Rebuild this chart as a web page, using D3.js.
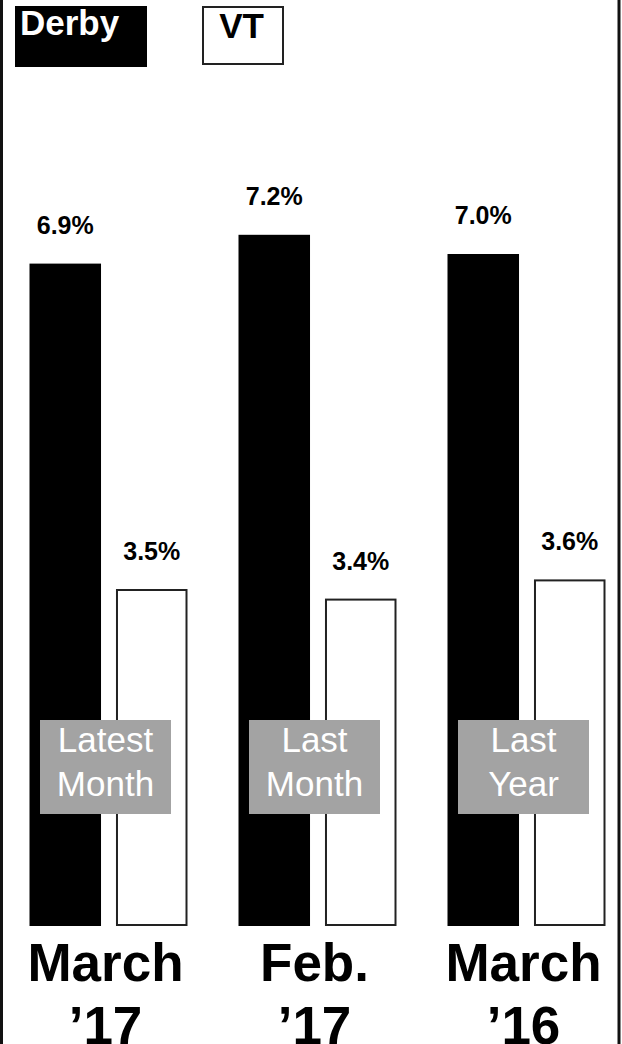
<!DOCTYPE html>
<html>
<head>
<meta charset="utf-8">
<script src="https://cdn.jsdelivr.net/npm/d3@7"></script>
<style>
  html, body { margin: 0; padding: 0; background: #fff; }
  svg { display: block; }
</style>
</head>
<body>
<script>
// Data
const categories = ['March|’17', 'Feb.|’17', 'March|’16']
const seriesNames = ['Derby', 'VT']
const derbyValues = [6.9, 7.2, 7.0]
const vtValues = [3.5, 3.4, 3.6]
const periodNotes = ['Latest|Month', 'Last|Month', 'Last|Year']

const width = 622
const height = 1044
const font = '"Liberation Sans", Arial, Helvetica, sans-serif'
const baseline = 926

const svg = d3.select('body')
  .append('svg')
  .attr('width', width)
  .attr('height', height)
  .attr('viewBox', `0 0 ${width} ${height}`)

// Frame sides
svg.append('rect')
  .attr('x', 1.5)
  .attr('y', -10)
  .attr('width', 617.5)
  .attr('height', height + 20)
  .attr('fill', 'none')
  .attr('stroke', '#111')
  .attr('stroke-width', 3)

// Scales
const x0 = d3.scaleBand()
  .domain(categories)
  .range([4, 631])
  .paddingInner(51 / 209)
  .paddingOuter(51 / 418)

const x1 = d3.scaleBand()
  .domain(seriesNames)
  .range([0, x0.bandwidth()])
  .paddingInner(0.173)

const y = d3.scaleLinear()
  .domain([0, 7.2])
  .range([baseline, baseline - 96 * 7.2])

const rows = categories.map((c, i) => ({
  category: c,
  note: periodNotes[i],
  values: [
    { series: 'Derby', value: derbyValues[i] },
    { series: 'VT', value: vtValues[i] }
  ]
}))

const groups = svg.selectAll('g.group')
  .data(rows)
  .join('g')
  .attr('class', 'group')
  .attr('transform', d => `translate(${x0(d.category)}, 0)`)

// Bars
groups.selectAll('rect.bar')
  .data(d => d.values)
  .join('rect')
  .attr('class', 'bar')
  .attr('x', d => x1(d.series) + (d.series === 'VT' ? 1 : 0))
  .attr('y', d => y(d.value))
  .attr('width', d => x1.bandwidth() - (d.series === 'VT' ? 2 : 0))
  .attr('height', d => y(0) - y(d.value) - (d.series === 'VT' ? 1 : 0))
  .attr('fill', d => d.series === 'Derby' ? '#000' : '#fff')
  .attr('stroke', d => d.series === 'Derby' ? 'none' : '#222')
  .attr('stroke-width', 2)

// Value labels
groups.selectAll('text.value')
  .data(d => d.values)
  .join('text')
  .attr('class', 'value')
  .attr('x', d => x1(d.series) + x1.bandwidth() / 2)
  .attr('y', d => y(d.value) - 30)
  .attr('text-anchor', 'middle')
  .attr('font-family', font)
  .attr('font-weight', 'bold')
  .attr('font-size', 25)
  .attr('fill', '#000')
  .text(d => d.value.toFixed(1) + '%')

// Period notes (gray boxes)
const noteCx = x0.bandwidth() / 2 - 3
const noteTop = 720
groups.append('rect')
  .attr('x', noteCx - 65.5)
  .attr('y', noteTop)
  .attr('width', 131)
  .attr('height', 94)
  .attr('fill', '#a3a3a3')

groups.append('text')
  .attr('text-anchor', 'middle')
  .attr('font-family', font)
  .attr('font-size', 35)
  .attr('fill', '#fff')
  .selectAll('tspan')
  .data(d => d.note.split('|'))
  .join('tspan')
  .attr('x', noteCx)
  .attr('y', (_, i) => noteTop + 32 + i * 44)
  .text(d => d)

// Category labels
groups.append('text')
  .attr('text-anchor', 'middle')
  .attr('font-family', font)
  .attr('font-weight', 'bold')
  .attr('font-size', 53)
  .attr('fill', '#000')
  .selectAll('tspan')
  .data(d => d.category.split('|'))
  .join('tspan')
  .attr('x', noteCx)
  .attr('y', (_, i) => 981 + i * 63)
  .text(d => d)

// Legend
svg.append('rect')
  .attr('x', 15)
  .attr('y', 6)
  .attr('width', 132)
  .attr('height', 61)
  .attr('fill', '#000')

svg.append('text')
  .attr('x', 20)
  .attr('y', 35)
  .attr('font-family', font)
  .attr('font-weight', 'bold')
  .attr('font-size', 35)
  .attr('fill', '#fff')
  .text(seriesNames[0])

svg.append('rect')
  .attr('x', 203)
  .attr('y', 7)
  .attr('width', 80)
  .attr('height', 57)
  .attr('fill', '#fff')
  .attr('stroke', '#222')
  .attr('stroke-width', 2)

svg.append('text')
  .attr('x', 241.5)
  .attr('y', 38)
  .attr('text-anchor', 'middle')
  .attr('font-family', font)
  .attr('font-weight', 'bold')
  .attr('font-size', 35)
  .attr('fill', '#000')
  .text(seriesNames[1])
</script>
</body>
</html>
